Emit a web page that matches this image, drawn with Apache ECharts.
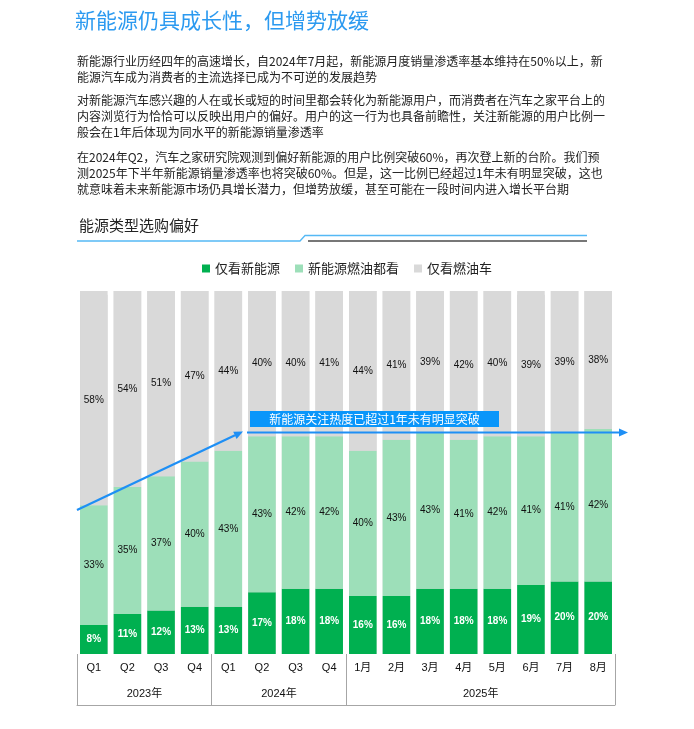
<!DOCTYPE html>
<html>
<head>
<meta charset="utf-8">
<script src="https://cdn.jsdelivr.net/npm/echarts@6/dist/echarts.min.js"></script>
<style>
html,body{margin:0;padding:0;background:#fff;}
#chart{width:694px;height:729px;}
</style>
</head>
<body>
<div id="chart"></div>
<script>
const categories = ['Q1','Q2','Q3','Q4','Q1','Q2','Q3','Q4','1月','2月','3月','4月','5月','6月','7月','8月'];
const yearLabels = ['','2023年','','','','2024年','','','','','','2025年','','','',''];
const groupStarts = [0, 4, 8];
const evOnly = [8,11,12,13,13,17,18,18,16,16,18,18,18,19,20,20];
const both = [33,35,37,40,43,43,42,42,40,43,43,41,42,41,41,42];
const fuelOnly = [58,54,51,47,44,40,40,41,44,41,39,42,40,39,39,38];
const seriesNames = ['仅看新能源','新能源燃油都看','仅看燃油车'];

const FONT = 'Liberation Sans, Arial, Noto Sans CJK SC, sans-serif';
const CJK = 'Noto Sans CJK SC, Liberation Sans, sans-serif';
const chart = echarts.init(document.getElementById('chart'));

const p1 = '新能源行业历经四年的高速增长，自2024年7月起，新能源月度销量渗透率基本维持在50%以上，新\n能源汽车成为消费者的主流选择已成为不可逆的发展趋势';
const p2 = '对新能源汽车感兴趣的人在或长或短的时间里都会转化为新能源用户，而消费者在汽车之家平台上的\n内容浏览行为恰恰可以反映出用户的偏好。用户的这一行为也具备前瞻性，关注新能源的用户比例一\n般会在1年后体现为同水平的新能源销量渗透率';
const p3 = '在2024年Q2，汽车之家研究院观测到偏好新能源的用户比例突破60%，再次登上新的台阶。我们预\n测2025年下半年新能源销量渗透率也将突破60%。但是，这一比例已经超过1年未有明显突破，这也\n就意味着未来新能源市场仍具增长潜力，但增势放缓，甚至可能在一段时间内进入增长平台期';

const paraStyle = {fontSize: 12, lineHeight: 16, color: '#222', fontWeight: 'normal', fontFamily: CJK};

const labelDark = {show: true, position: 'inside', formatter: '{c}%', color: '#111', fontSize: 10, fontFamily: FONT};
const labelWhite = {show: true, position: 'inside', formatter: '{c}%', color: '#fff', fontSize: 10, fontWeight: 'bold', fontFamily: FONT};

const option = {
  animation: false,
  backgroundColor: '#fff',
  title: [
    {text: '新能源仍具成长性，但增势放缓', left: 75, top: 10, padding: 0,
     textStyle: {fontSize: 21, color: '#2C9AF0', fontWeight: 'normal', fontFamily: CJK}},
    {text: p1, left: 77, top: 53, padding: 0, textStyle: paraStyle},
    {text: p2, left: 77, top: 92, padding: 0, textStyle: paraStyle},
    {text: p3, left: 77, top: 149, padding: 0, textStyle: paraStyle},
    {text: '能源类型选购偏好', left: 79, top: 218, padding: 0,
     textStyle: {fontSize: 15, color: '#222', fontWeight: 'normal', fontFamily: CJK}}
  ],
  legend: {
    data: seriesNames,
    left: 'center', top: 257,
    itemWidth: 8, itemHeight: 8, itemGap: 15,
    icon: 'rect',
    textStyle: {fontSize: 13, color: '#222', fontFamily: CJK}
  },
  grid: {left: 77, right: 79, top: 291, bottom: 75},
  xAxis: [
    {type: 'category', data: categories, position: 'bottom',
     axisLine: {show: false}, axisTick: {show: false},
     axisLabel: {interval: 0, margin: 8, fontSize: 11, color: '#111', fontFamily: FONT}},
    {type: 'category', data: categories, position: 'bottom', offset: 51,
     axisLine: {show: true, lineStyle: {color: '#a6a6a6', width: 1}},
     axisTick: {show: true, inside: true, length: 51, alignWithLabel: false,
       interval: function (i) { return groupStarts.indexOf(i) >= 0; },
       lineStyle: {color: '#a6a6a6', width: 1}},
     axisLabel: {inside: true, interval: 0, margin: 6, fontSize: 11, color: '#111', fontFamily: FONT,
       padding: [0, 0, 0, 34],
       formatter: function (v, i) { return yearLabels[i]; }}}
  ],
  yAxis: {type: 'value', min: 0, max: 100, show: false},
  series: [
    {name: seriesNames[0], type: 'bar', stack: 'a', data: evOnly, barCategoryGap: '18%',
     itemStyle: {color: '#00B050'}, label: labelWhite,
     showBackground: true, backgroundStyle: {color: '#D9D9D9'}},
    {name: seriesNames[1], type: 'bar', stack: 'a', data: both,
     itemStyle: {color: '#9DDFB9'}, label: labelDark},
    {name: seriesNames[2], type: 'bar', stack: 'a', data: fuelOnly,
     itemStyle: {color: '#D9D9D9'}, label: labelDark}
  ],
  graphic: [
    {type: 'polyline', z: 10, shape: {points: [[77, 241], [300, 241], [305, 235.5], [587, 235.5]]},
     style: {stroke: '#55B9F5', lineWidth: 1.3, fill: null}},
    {type: 'line', z: 10, shape: {x1: 308, y1: 241, x2: 587, y2: 241},
     style: {stroke: '#777', lineWidth: 2}},
    {type: 'line', z: 100, shape: {x1: 77, y1: 510, x2: 235, y2: 435.3},
     style: {stroke: '#1E8FF5', lineWidth: 2.2}},
    {type: 'polygon', z: 100, shape: {points: [[243, 431.5], [236.6, 438.9], [233.2, 431.7]]},
     style: {fill: '#1E8FF5'}},
    {type: 'line', z: 100, shape: {x1: 247, y1: 432.5, x2: 620, y2: 432.5},
     style: {stroke: '#1E8FF5', lineWidth: 2}},
    {type: 'polygon', z: 100, shape: {points: [[628, 432.5], [619, 428.5], [619, 436.5]]},
     style: {fill: '#1E8FF5'}},
    {type: 'rect', z: 100, shape: {x: 250, y: 411, width: 249, height: 16},
     style: {fill: '#0A96FA'}},
    {type: 'text', z: 101, x: 374.5, y: 419,
     style: {text: '新能源关注热度已超过1年未有明显突破', fill: '#fff', fontSize: 12,
       fontFamily: CJK, align: 'center', verticalAlign: 'middle'}}
  ]
};
chart.setOption(option);
</script>
</body>
</html>
